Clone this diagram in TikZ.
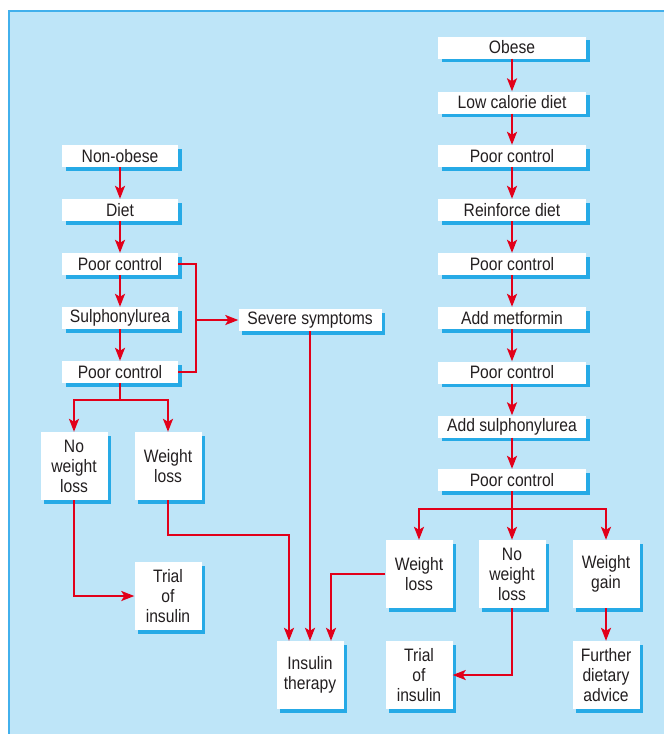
\documentclass[tikz,border=0pt]{standalone}
\usepackage{fontspec}
\setmainfont[FakeStretch=0.87]{Liberation Sans}
\usetikzlibrary{arrows.meta,shadows,calc}
\definecolor{bgblue}{RGB}{190,229,248}
\definecolor{edgeblue}{RGB}{66,176,236}
\definecolor{shblue}{RGB}{38,170,230}
\definecolor{arrred}{RGB}{226,0,26}
\definecolor{txt}{RGB}{35,31,32}
\tikzset{
  box/.style={fill=white, inner sep=0pt, align=center, text=txt,
    font=\fontsize{18}{20}\selectfont,
    drop shadow={shadow xshift=3.5pt, shadow yshift=-3.5pt, fill=shblue, opacity=1}},
  lbox/.style={box, minimum width=116pt, minimum height=22pt},
  rbox/.style={box, minimum width=148pt, minimum height=22pt},
  sbox/.style={box, minimum width=67pt, minimum height=68pt},
  conn/.style={draw=arrred, line width=2pt},
  arr/.style={conn, -{Stealth[length=13pt, width=10pt, inset=3pt]}},
}
\begin{document}
\begin{tikzpicture}[x=1pt, y=-1pt]
\useasboundingbox (0,0) rectangle (664,734);
\fill[bgblue] (8,10) rectangle (664,734);
\draw[edgeblue, line width=2pt] (9,734) -- (9,11) -- (664,11);

% left column
\node[lbox] (nonobese) at (120,156) {Non-obese};
\node[lbox] (diet) at (120,210) {Diet};
\node[lbox] (pc1) at (120,264) {Poor control};
\node[lbox] (sulph) at (120,318) {Sulphonylurea};
\node[lbox] (pc2) at (120,372) {Poor control};
\node[box, minimum width=143pt, minimum height=22pt] (severe) at (310,320) {Severe symptoms};
\node[sbox] (nwl1) at (74,466) {No\\weight\\loss};
\node[sbox] (wl1) at (168,466) {Weight\\loss};
\node[sbox] (trial1) at (168,596) {Trial\\of\\insulin};
\node[sbox] (insulin) at (310,675) {Insulin\\therapy};

% right column
\node[rbox] (obese) at (512,47.5) {Obese};
\node[rbox] (lcd) at (512,102.5) {Low calorie diet};
\node[rbox] (pc3) at (512,156) {Poor control};
\node[rbox] (reinf) at (512,210) {Reinforce diet};
\node[rbox] (pc4) at (512,264) {Poor control};
\node[rbox] (metf) at (512,318) {Add metformin};
\node[rbox] (pc5) at (512,372.5) {Poor control};
\node[rbox] (addsulph) at (512,426.5) {Add sulphonylurea};
\node[rbox] (pc6) at (512,480) {Poor control};
\node[sbox] (wl2) at (419,574) {Weight\\loss};
\node[sbox] (nwl2) at (512,574) {No\\weight\\loss};
\node[sbox] (wg) at (606,574) {Weight\\gain};
\node[sbox] (trial2) at (419,675) {Trial\\of\\insulin};
\node[sbox] (further) at (606,675) {Further\\dietary\\advice};

% left chain
\draw[arr] (nonobese) -- (diet);
\draw[arr] (diet) -- (pc1);
\draw[arr] (pc1) -- (sulph);
\draw[arr] (sulph) -- (pc2);
\coordinate (bx) at (196,0);
\draw[conn] (pc1.east) -- (pc1.east -| bx) -- (pc2.east -| bx) -- (pc2.east);
\draw[arr] (severe.west -| bx) -- (severe.west);
\coordinate (lb) at (0,400);
\draw[arr] (pc2.south) -- (pc2.south |- lb) -| (nwl1.north);
\draw[arr] (pc2.south) -- (pc2.south |- lb) -| (wl1.north);
\draw[arr] (nwl1.south) |- (trial1.west);
\coordinate (wb) at (0,535);
\draw[arr] (wl1.south) -- (wl1.south |- wb) -| ([xshift=-21pt]insulin.north);
\draw[arr] (severe.south) -- (severe.south |- insulin.north);
\draw[arr] (wl2.west) -| ([xshift=21pt]insulin.north);

% right chain
\draw[arr] (obese) -- (lcd);
\draw[arr] (lcd) -- (pc3);
\draw[arr] (pc3) -- (reinf);
\draw[arr] (reinf) -- (pc4);
\draw[arr] (pc4) -- (metf);
\draw[arr] (metf) -- (pc5);
\draw[arr] (pc5) -- (addsulph);
\draw[arr] (addsulph) -- (pc6);
\coordinate (rb) at (0,509);
\draw[arr] (pc6.south) -- (pc6.south |- rb) -| (wl2.north);
\draw[arr] (pc6.south) -- (pc6.south |- rb) -| (wg.north);
\draw[arr] (pc6.south) -- (pc6.south |- nwl2.north);
\draw[arr] (nwl2.south) |- (trial2.east);
\draw[arr] (wg) -- (further);
\end{tikzpicture}
\end{document}
